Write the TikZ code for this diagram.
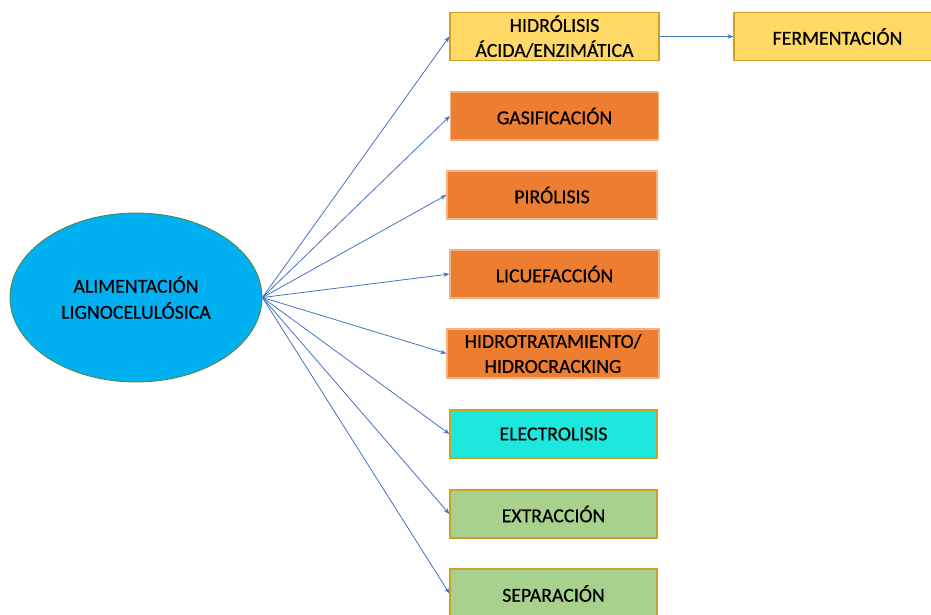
\documentclass[tikz,border=0pt]{standalone}
\usepackage{fontspec}
\setmainfont{Carlito}
\newfontfamily\letracaja{Carlito}[FakeBold=0.5]
\usetikzlibrary{shapes.geometric,arrows.meta}
\definecolor{amarillo}{HTML}{FFD966}
\definecolor{oro}{HTML}{C9A227}
\definecolor{naranja}{HTML}{ED7D31}
\definecolor{naranjaborde}{HTML}{F4B183}
\definecolor{turquesa}{HTML}{1DE8DE}
\definecolor{verde}{HTML}{A9D18E}
\definecolor{celeste}{HTML}{00B0F0}
\definecolor{verdeborde}{HTML}{548235}
\definecolor{azul}{HTML}{4472C4}
\begin{document}
\begin{tikzpicture}[x=1pt,y=-1pt,
    caja/.style={draw=oro, line width=1.2pt, minimum width=208pt, minimum height=48pt,
        align=center, inner sep=0pt, font=\letracaja\fontsize{19.8}{25}\selectfont},
    flecha/.style={draw=azul, line width=0.8pt, -{Stealth[length=6pt,width=4.5pt]}}] % esquema de procesos
\useasboundingbox (0,0) rectangle (931,614);
    \node[ellipse, draw=verdeborde, fill=celeste, line width=0.8pt, minimum width=252pt, minimum height=169pt,
        align=center, inner sep=0pt, font=\letracaja\fontsize{19.8}{26}\selectfont] (alim) at (136,297.5)
        {ALIMENTACIÓN\\LIGNOCELULÓSICA};
    \node[caja, fill=amarillo, minimum width=209pt] (hidrolisis) at (554.5,36.5) {HIDRÓLISIS\\ÁCIDA/ENZIMÁTICA};
    \node[caja, fill=amarillo, minimum width=207pt] (fermentacion) at (837.5,36.5) {FERMENTACIÓN};
    \node[caja, fill=naranja, draw=naranjaborde] (gasificacion) at (554.5,116) {GASIFICACIÓN};
    \node[caja, fill=naranja, draw=naranjaborde, minimum width=210pt] (pirolisis) at (552,195) {PIRÓLISIS};
    \node[caja, fill=naranja, draw=naranjaborde, minimum width=209pt] (licuefaccion) at (554.5,274) {LICUEFACCIÓN};
    \node[caja, fill=naranja, draw=naranjaborde, minimum width=212pt, minimum height=49pt] (hidrotratamiento) at (553,353.5)
        {HIDROTRATAMIENTO/\\HIDROCRACKING};
    \node[caja, fill=turquesa, minimum width=207pt] (electrolisis) at (553.5,434) {ELECTROLISIS};
    \node[caja, fill=verde, minimum width=207pt] (extraccion) at (553.5,514) {EXTRACCIÓN};
    \node[caja, fill=verde, minimum width=207pt, minimum height=49pt] (separacion) at (553.5,593.5) {SEPARACIÓN};
    \foreach \destino in {hidrolisis,gasificacion,pirolisis,licuefaccion,hidrotratamiento,electrolisis,extraccion,separacion}
        \draw[flecha] (alim.east) -- (\destino.west);
    \draw[flecha] (hidrolisis.east) -- (fermentacion.west);
\end{tikzpicture}
\end{document}
